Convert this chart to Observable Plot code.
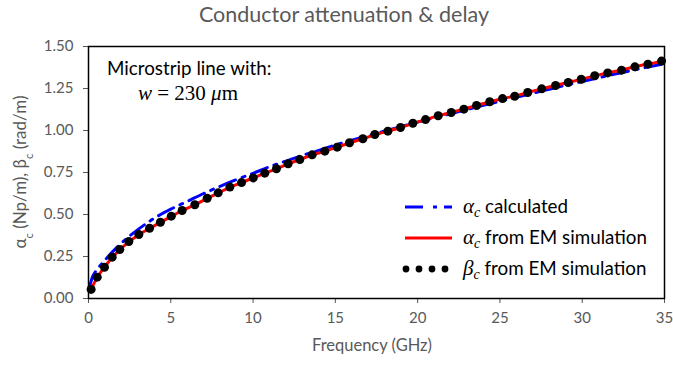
<!DOCTYPE html>
<html>
<head>
<meta charset="utf-8">
<script src="https://cdn.jsdelivr.net/npm/d3@7"></script>
<script src="https://cdn.jsdelivr.net/npm/@observablehq/plot@0.6"></script>
<style>
  html, body { margin: 0; padding: 0; background: #fff; }
  #chart svg { display: block; }
</style>
</head>
<body>
<div id="chart"></div>
<script>
// ---- data ----
const xTicks = [0, 5, 10, 15, 20, 25, 30, 35];
const yTicks = [0, 0.25, 0.5, 0.75, 1.0, 1.25, 1.5];

// beta_c from EM simulation (markers)
const betaFreq = [0.16,0.53,0.97,1.44,1.90,2.45,3.06,3.71,4.37,5.03,5.69,6.46,7.21,7.88,8.59,9.30,10.01,10.71,11.42,12.13,12.84,13.59,14.36,15.11,15.86,16.67,17.40,18.19,18.96,19.71,20.48,21.25,22.04,22.81,23.58,24.38,25.16,25.90,26.69,27.54,28.38,29.15,29.94,30.76,31.55,32.39,33.20,33.99,34.82];
const betaEM = [0.054,0.127,0.186,0.246,0.292,0.339,0.381,0.418,0.454,0.490,0.524,0.558,0.597,0.629,0.663,0.690,0.718,0.746,0.772,0.802,0.827,0.855,0.877,0.901,0.927,0.951,0.976,0.996,1.018,1.043,1.065,1.088,1.107,1.127,1.149,1.171,1.190,1.204,1.226,1.248,1.268,1.286,1.305,1.326,1.343,1.359,1.379,1.395,1.413];

// alpha_c from EM simulation (red line)
const alphaFreq = [0.08,0.16,0.53,0.97,1.44,1.90,2.45,3.06,3.71,4.37,5.03,5.69,6.46,7.21,7.88,8.59,9.30,10.01,10.71,11.42,12.13,12.84,13.59,14.36,15.11,15.86,16.67,17.40,18.19,18.96,19.71,20.48,21.25,22.04,22.81,23.58,24.38,25.16,25.90,26.69,27.54,28.38,29.15,29.94,30.76,31.55,32.39,33.20,33.99,34.82,35];
const alphaEM = [0.045,0.058,0.125,0.186,0.244,0.290,0.337,0.380,0.417,0.453,0.489,0.523,0.558,0.596,0.628,0.662,0.690,0.718,0.746,0.772,0.801,0.827,0.854,0.877,0.901,0.926,0.951,0.975,0.996,1.018,1.042,1.065,1.087,1.107,1.127,1.149,1.170,1.190,1.205,1.226,1.248,1.268,1.286,1.305,1.325,1.343,1.360,1.379,1.396,1.412,1.418];

// alpha_c calculated (blue dash-dot)
const calcFreq = [0.05,0.25,0.5,1,1.5,2,3,4,5,6,7,8,9,10,11,12,13,14,15,16,18,20,22,24,26,28,30,32,34,35];
const calcAlpha = [0.065,0.13,0.17,0.228,0.282,0.33,0.41,0.478,0.532,0.578,0.625,0.668,0.708,0.745,0.784,0.818,0.852,0.882,0.914,0.942,0.997,1.050,1.100,1.150,1.198,1.246,1.292,1.336,1.378,1.398];

const redData = alphaFreq.map((f, i) => ({f, v: alphaEM[i]}));
const dotData = betaFreq.map((f, i) => ({f, v: betaEM[i]}));
const blueData = calcFreq.map((f, i) => ({f, v: calcAlpha[i]}));

const font = "Lato, 'Open Sans', sans-serif";
const serif = "'Liberation Serif', 'DejaVu Serif', serif";
const gray = "#595959";
const dash = "17,7,3,7";

const W = 673, H = 369;
const mL = 88, mR = 9, mT = 46, mB = 71;

const chart = Plot.plot({
  width: W, height: H,
  marginLeft: mL, marginRight: mR, marginTop: mT, marginBottom: mB,
  style: {fontFamily: font, fontSize: "15px", color: gray, background: "#fff"},
  x: {domain: [0, 35]},
  y: {domain: [0, 1.5]},
  marks: [
    Plot.axisX({ticks: xTicks, tickSize: 5, tickPadding: 9, label: null, fontSize: 15, stroke: gray}),
    Plot.axisY({ticks: yTicks, tickSize: 5, tickPadding: 10, label: null, fontSize: 15, tickFormat: d3.format(".2f"), stroke: gray}),
    Plot.line(blueData, {x: "f", y: "v", stroke: "#0000ff", strokeWidth: 3, strokeDasharray: dash, curve: "monotone-x"}),
    Plot.line(redData, {x: "f", y: "v", stroke: "#ff0000", strokeWidth: 3, curve: "monotone-x"}),
    Plot.dot(dotData, {x: "f", y: "v", r: 4.5, fill: "#000", stroke: "none"}),
    Plot.frame({stroke: "#000", strokeWidth: 1.5})
  ]
});

document.getElementById("chart").appendChild(chart);

const svg = d3.select(chart);
const plotL = mL, plotR = W - mR, plotT = mT, plotB = H - mB;
const cx = (plotL + plotR) / 2, cy = (plotT + plotB) / 2;

// Title
svg.append("text")
  .attr("x", 344).attr("y", 22)
  .attr("text-anchor", "middle")
  .style("font-family", font).style("font-size", "21.5px").style("fill", gray)
  .text("Conductor attenuation & delay");

// X label
svg.append("text")
  .attr("x", cx - 4).attr("y", 351)
  .attr("text-anchor", "middle")
  .style("font-family", font).style("font-size", "16.5px").style("fill", gray)
  .text("Frequency (GHz)");

// Y label with subscripts
const yl = svg.append("text")
  .attr("transform", `translate(26,${cy}) rotate(-90)`)
  .attr("text-anchor", "middle")
  .style("font-family", font).style("font-size", "17px").style("fill", gray);
yl.append("tspan").text("α");
yl.append("tspan").attr("baseline-shift", "sub").style("font-size", "11px").text("c");
yl.append("tspan").text(" (Np/m), β");
yl.append("tspan").attr("baseline-shift", "sub").style("font-size", "11px").text("c");
yl.append("tspan").text(" (rad/m)");

// Annotation
svg.append("text")
  .attr("x", 107).attr("y", 75)
  .attr("text-anchor", "start")
  .style("font-family", font).style("font-size", "18.8px").style("fill", "#000")
  .text("Microstrip line with:");
const ann = svg.append("text")
  .attr("x", 138).attr("y", 100)
  .attr("text-anchor", "start")
  .style("font-family", serif).style("font-size", "21px").style("fill", "#000");
ann.append("tspan").style("font-style", "italic").text("w");
ann.append("tspan").text(" = 230 ");
ann.append("tspan").style("font-style", "italic").text("μ");
ann.append("tspan").text("m");

// Legend
const lg = svg.append("g");
const rows = [
  {y: 207, kind: "blue", sym: "α", rest: " calculated"},
  {y: 238, kind: "red", sym: "α", rest: " from EM simulation"},
  {y: 269, kind: "dots", sym: "β", rest: " from EM simulation"}
];
rows.forEach(r => {
  if (r.kind === "blue") {
    lg.append("line").attr("x1", 405).attr("x2", 452).attr("y1", r.y).attr("y2", r.y)
      .attr("stroke", "#0000ff").attr("stroke-width", 3).attr("stroke-dasharray", "18,10,4,7");
  } else if (r.kind === "red") {
    lg.append("line").attr("x1", 405).attr("x2", 452).attr("y1", r.y).attr("y2", r.y)
      .attr("stroke", "#ff0000").attr("stroke-width", 3);
  } else {
    [406, 419, 432, 445].forEach(x => lg.append("circle").attr("cx", x).attr("cy", r.y).attr("r", 3.4).attr("fill", "#000"));
  }
  const t = lg.append("text").attr("x", 463).attr("y", r.y + 6)
    .attr("text-anchor", "start")
    .style("font-family", font).style("font-size", "18.8px").style("fill", "#000");
  t.append("tspan").style("font-family", serif).style("font-style", "italic").style("font-size", "21px").text(r.sym);
  t.append("tspan").style("font-family", serif).style("font-style", "italic").style("font-size", "14px").attr("dy", 4).text("c");
  t.append("tspan").attr("dy", -4).text(r.rest);
});
</script>
</body>
</html>
